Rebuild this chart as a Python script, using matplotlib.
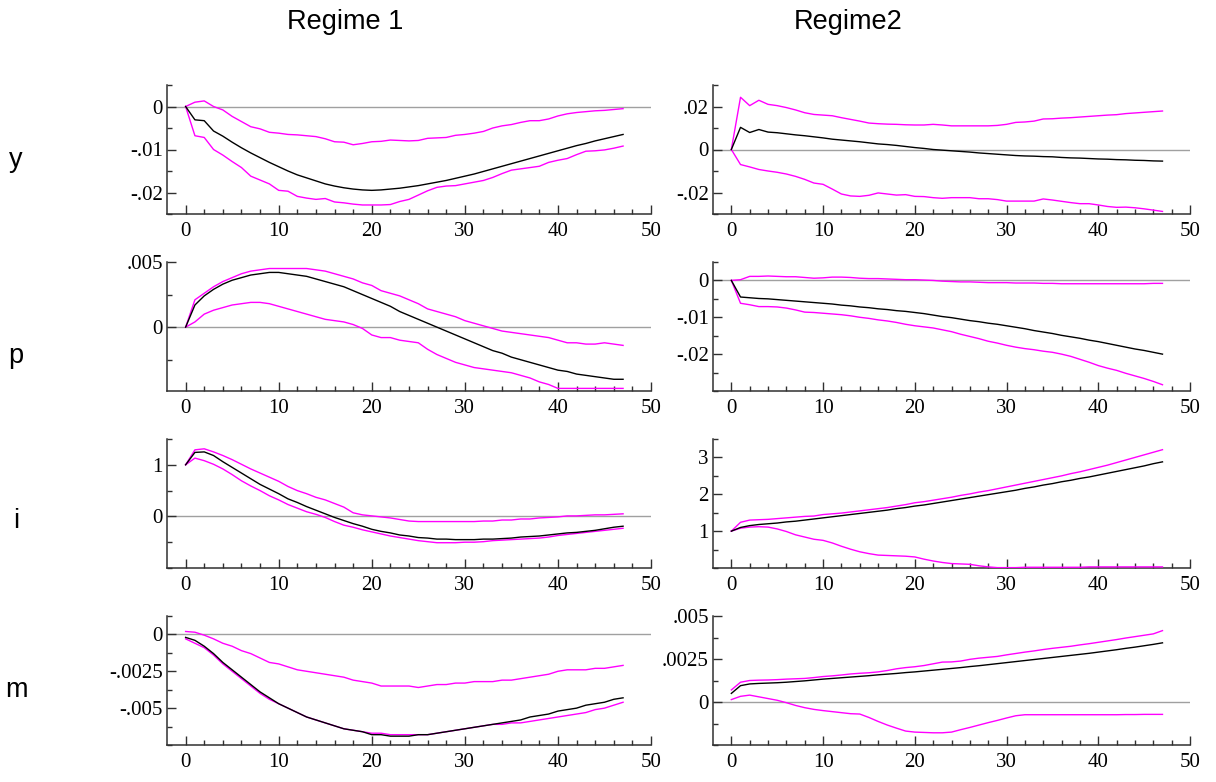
import numpy as np
import matplotlib
matplotlib.use("Agg")
import matplotlib.pyplot as plt
from matplotlib.ticker import FixedLocator, MultipleLocator

horizon = list(range(48))
row_labels = ["y", "p", "i", "m"]
col_titles = ["Regime 1", "Regime2"]

# ---- y, regime 1
y1_mid = [0, -0.0031, -0.0033, -0.0057, -0.0069, -0.0083, -0.0096, -0.0108, -0.0119, -0.0130,
          -0.0140, -0.0150, -0.0159, -0.0166, -0.0173, -0.0180, -0.0185, -0.0189, -0.0192, -0.0194,
          -0.0195, -0.0194, -0.0192, -0.0190, -0.0187, -0.0184, -0.0180, -0.0176, -0.0172, -0.0167,
          -0.0162, -0.0157, -0.0151, -0.0145, -0.0139, -0.0133, -0.0127, -0.0121, -0.0115, -0.0109,
          -0.0103, -0.0097, -0.0091, -0.0086, -0.0080, -0.0075, -0.0070, -0.0065]
y1_up = [0, 0.0010, 0.0013, 0.0000, -0.0008, -0.0023, -0.0035, -0.0047, -0.0052, -0.0060,
         -0.0062, -0.0065, -0.0066, -0.0068, -0.0070, -0.0075, -0.0082, -0.0083, -0.0089, -0.0086,
         -0.0082, -0.0081, -0.0078, -0.0079, -0.0080, -0.0079, -0.0074, -0.0073, -0.0072, -0.0067,
         -0.0065, -0.0062, -0.0058, -0.0050, -0.0045, -0.0042, -0.0037, -0.0033, -0.0033, -0.0029,
         -0.0022, -0.0017, -0.0014, -0.0012, -0.0010, -0.0009, -0.0007, -0.0005]
y1_lo = [0, -0.0068, -0.0072, -0.0100, -0.0113, -0.0128, -0.0142, -0.0162, -0.0171, -0.0180,
         -0.0195, -0.0197, -0.0209, -0.0213, -0.0216, -0.0214, -0.0222, -0.0224, -0.0227, -0.0229,
         -0.0229, -0.0229, -0.0228, -0.0221, -0.0216, -0.0206, -0.0196, -0.0188, -0.0185, -0.0184,
         -0.0180, -0.0176, -0.0172, -0.0165, -0.0156, -0.0148, -0.0145, -0.0142, -0.0139, -0.0130,
         -0.0125, -0.0121, -0.0112, -0.0104, -0.0103, -0.0101, -0.0097, -0.0092]

# ---- y, regime 2
y2_mid = [0, 0.0103, 0.0079, 0.0093, 0.0081, 0.0078, 0.0073, 0.0068, 0.0064, 0.0059,
          0.0054, 0.0048, 0.0044, 0.0040, 0.0036, 0.0031, 0.0026, 0.0023, 0.0019, 0.0014,
          0.0009, 0.0005, 0.0000, -0.0003, -0.0006, -0.0009, -0.0012, -0.0016, -0.0019, -0.0022,
          -0.0025, -0.0028, -0.0030, -0.0031, -0.0033, -0.0034, -0.0037, -0.0039, -0.0040, -0.0042,
          -0.0044, -0.0045, -0.0047, -0.0048, -0.0050, -0.0051, -0.0053, -0.0054]
y2_up = [0, 0.0243, 0.0204, 0.0229, 0.0210, 0.0204, 0.0195, 0.0184, 0.0171, 0.0163,
         0.0160, 0.0157, 0.0148, 0.0140, 0.0132, 0.0123, 0.0120, 0.0118, 0.0117, 0.0115,
         0.0114, 0.0114, 0.0117, 0.0114, 0.0110, 0.0110, 0.0110, 0.0110, 0.0110, 0.0112,
         0.0117, 0.0126, 0.0128, 0.0132, 0.0142, 0.0143, 0.0146, 0.0148, 0.0151, 0.0154,
         0.0157, 0.0160, 0.0162, 0.0167, 0.0170, 0.0173, 0.0176, 0.0179]
y2_lo = [0, -0.0070, -0.0081, -0.0093, -0.0100, -0.0106, -0.0114, -0.0125, -0.0139, -0.0156,
         -0.0162, -0.0184, -0.0207, -0.0216, -0.0218, -0.0213, -0.0202, -0.0207, -0.0212, -0.0210,
         -0.0218, -0.0219, -0.0224, -0.0227, -0.0224, -0.0224, -0.0224, -0.0229, -0.0229, -0.0233,
         -0.0240, -0.0240, -0.0240, -0.0240, -0.0230, -0.0235, -0.0241, -0.0247, -0.0252, -0.0252,
         -0.0258, -0.0265, -0.0269, -0.0268, -0.0271, -0.0276, -0.0282, -0.0288]

# ---- p, regime 1
p1_mid = [0, 0.0017, 0.0024, 0.0029, 0.0033, 0.0036, 0.0038, 0.0040, 0.0041, 0.0042,
          0.0042, 0.0041, 0.0040, 0.0039, 0.0037, 0.0035, 0.0033, 0.0031, 0.0028, 0.0025,
          0.0022, 0.0019, 0.0016, 0.0012, 0.0009, 0.0006, 0.0003, 0.0000, -0.0003, -0.0006,
          -0.0009, -0.0012, -0.0015, -0.0018, -0.0020, -0.0023, -0.0025, -0.0027, -0.0029, -0.0031,
          -0.0033, -0.0034, -0.0036, -0.0037, -0.0038, -0.0039, -0.0040, -0.0040]
p1_up = [0, 0.0021, 0.0026, 0.0031, 0.0035, 0.0038, 0.0041, 0.0043, 0.0044, 0.0045,
         0.0045, 0.0045, 0.0045, 0.0045, 0.0044, 0.0043, 0.0041, 0.0039, 0.0037, 0.0034,
         0.0032, 0.0028, 0.0026, 0.0024, 0.0021, 0.0018, 0.0014, 0.0012, 0.0010, 0.0008,
         0.0005, 0.0003, 0.0001, -0.0001, -0.0003, -0.0004, -0.0005, -0.0006, -0.0007, -0.0008,
         -0.0010, -0.0012, -0.0012, -0.0013, -0.0013, -0.0012, -0.0013, -0.0014]
p1_lo = [0, 0.0004, 0.0010, 0.0013, 0.0015, 0.0017, 0.0018, 0.0019, 0.0019, 0.0018,
         0.0016, 0.0014, 0.0012, 0.0010, 0.0008, 0.0006, 0.0005, 0.0004, 0.0002, -0.0001,
         -0.0006, -0.0008, -0.0008, -0.0010, -0.0011, -0.0012, -0.0017, -0.0021, -0.0024, -0.0027,
         -0.0029, -0.0031, -0.0032, -0.0033, -0.0034, -0.0035, -0.0037, -0.0039, -0.0042, -0.0044,
         -0.0047, -0.0047, -0.0047, -0.0047, -0.0047, -0.0047, -0.0047, -0.0047]

# ---- p, regime 2
p2_mid = [0, -0.0045, -0.0047, -0.0049, -0.0050, -0.0052, -0.0054, -0.0056, -0.0058, -0.0060,
          -0.0062, -0.0064, -0.0067, -0.0069, -0.0072, -0.0074, -0.0077, -0.0079, -0.0082, -0.0084,
          -0.0087, -0.0090, -0.0094, -0.0098, -0.0101, -0.0105, -0.0109, -0.0112, -0.0116, -0.0119,
          -0.0123, -0.0127, -0.0131, -0.0136, -0.0140, -0.0144, -0.0149, -0.0153, -0.0157, -0.0162,
          -0.0166, -0.0171, -0.0176, -0.0181, -0.0186, -0.0190, -0.0195, -0.0200]
p2_up = [0, 0.0002, 0.0011, 0.0011, 0.0012, 0.0011, 0.0010, 0.0010, 0.0008, 0.0006,
         0.0007, 0.0009, 0.0009, 0.0008, 0.0006, 0.0005, 0.0005, 0.0004, 0.0003, 0.0002,
         0.0002, 0.0001, 0.0000, -0.0002, -0.0003, -0.0004, -0.0004, -0.0005, -0.0006, -0.0006,
         -0.0006, -0.0007, -0.0007, -0.0007, -0.0008, -0.0008, -0.0009, -0.0009, -0.0009, -0.0009,
         -0.0009, -0.0009, -0.0009, -0.0009, -0.0009, -0.0009, -0.0008, -0.0008]
p2_lo = [0, -0.0062, -0.0066, -0.0071, -0.0071, -0.0072, -0.0075, -0.0080, -0.0086, -0.0087,
         -0.0089, -0.0091, -0.0093, -0.0096, -0.0100, -0.0103, -0.0107, -0.0110, -0.0114, -0.0119,
         -0.0123, -0.0126, -0.0129, -0.0134, -0.0139, -0.0146, -0.0152, -0.0158, -0.0165, -0.0170,
         -0.0176, -0.0181, -0.0185, -0.0188, -0.0192, -0.0195, -0.0200, -0.0206, -0.0214, -0.0222,
         -0.0231, -0.0238, -0.0244, -0.0252, -0.0259, -0.0266, -0.0274, -0.0283]

# ---- i, regime 1
i1_mid = [1.0, 1.24, 1.25, 1.18, 1.06, 0.95, 0.84, 0.73, 0.62, 0.53,
          0.44, 0.34, 0.27, 0.19, 0.12, 0.05, -0.02, -0.08, -0.14, -0.19,
          -0.25, -0.29, -0.32, -0.36, -0.38, -0.41, -0.42, -0.44, -0.44, -0.45,
          -0.45, -0.45, -0.44, -0.44, -0.43, -0.42, -0.40, -0.39, -0.38, -0.36,
          -0.34, -0.32, -0.31, -0.29, -0.27, -0.24, -0.21, -0.19]
i1_up = [1.0, 1.29, 1.31, 1.25, 1.18, 1.10, 1.01, 0.92, 0.84, 0.76,
         0.68, 0.58, 0.50, 0.44, 0.37, 0.32, 0.25, 0.18, 0.07, 0.03,
         0.01, -0.01, -0.03, -0.06, -0.09, -0.10, -0.10, -0.10, -0.10, -0.10,
         -0.10, -0.10, -0.09, -0.09, -0.07, -0.07, -0.05, -0.05, -0.03, -0.02,
         -0.01, 0.01, 0.01, 0.02, 0.03, 0.03, 0.04, 0.05]
i1_lo = [1.0, 1.13, 1.08, 1.01, 0.92, 0.81, 0.69, 0.59, 0.50, 0.40,
         0.32, 0.23, 0.16, 0.09, 0.04, -0.02, -0.10, -0.17, -0.21, -0.26,
         -0.30, -0.34, -0.38, -0.41, -0.44, -0.47, -0.49, -0.51, -0.51, -0.51,
         -0.50, -0.50, -0.49, -0.47, -0.46, -0.45, -0.44, -0.43, -0.42, -0.40,
         -0.37, -0.35, -0.33, -0.31, -0.29, -0.27, -0.25, -0.23]

# ---- i, regime 2
i2_mid = [1.0, 1.10, 1.15, 1.18, 1.20, 1.22, 1.25, 1.27, 1.30, 1.33,
          1.36, 1.39, 1.42, 1.45, 1.48, 1.51, 1.54, 1.57, 1.61, 1.64,
          1.68, 1.71, 1.75, 1.79, 1.83, 1.87, 1.91, 1.95, 1.99, 2.03,
          2.07, 2.11, 2.16, 2.20, 2.25, 2.29, 2.34, 2.38, 2.43, 2.47,
          2.52, 2.57, 2.62, 2.67, 2.72, 2.77, 2.83, 2.88]
i2_up = [1.0, 1.24, 1.30, 1.31, 1.32, 1.34, 1.36, 1.38, 1.40, 1.41,
         1.45, 1.47, 1.49, 1.52, 1.55, 1.58, 1.61, 1.64, 1.68, 1.72,
         1.77, 1.80, 1.84, 1.88, 1.92, 1.97, 2.01, 2.06, 2.10, 2.15,
         2.20, 2.25, 2.30, 2.35, 2.40, 2.45, 2.50, 2.56, 2.61, 2.67,
         2.73, 2.79, 2.86, 2.93, 3.00, 3.07, 3.14, 3.21]
i2_lo = [1.0, 1.08, 1.11, 1.12, 1.11, 1.06, 0.99, 0.90, 0.84, 0.78,
         0.75, 0.68, 0.59, 0.51, 0.44, 0.39, 0.35, 0.34, 0.33, 0.32,
         0.30, 0.24, 0.19, 0.15, 0.12, 0.11, 0.10, 0.06, 0.03, 0.01,
         0.01, 0.01, 0.02, 0.02, 0.02, 0.02, 0.02, 0.02, 0.02, 0.03,
         0.03, 0.03, 0.03, 0.03, 0.03, 0.03, 0.03, 0.03]

# ---- m, regime 1
m1_mid = [-0.0002, -0.0004, -0.0008, -0.0013, -0.0019, -0.0024, -0.0029, -0.0034, -0.0039, -0.0043,
          -0.0047, -0.0050, -0.0053, -0.0056, -0.0058, -0.0060, -0.0062, -0.0064, -0.0065, -0.0066,
          -0.0068, -0.0068, -0.0069, -0.0069, -0.0069, -0.0068, -0.0068, -0.0067, -0.0066, -0.0065,
          -0.0064, -0.0063, -0.0062, -0.0061, -0.0060, -0.0059, -0.0058, -0.0056, -0.0055, -0.0054,
          -0.0052, -0.0051, -0.0050, -0.0048, -0.0047, -0.0046, -0.0044, -0.0043]
m1_up = [0.0002, 0.00015, -0.00005, -0.0003, -0.0006, -0.0008, -0.0011, -0.0013, -0.0016, -0.0019,
         -0.0020, -0.0022, -0.0024, -0.0025, -0.0026, -0.0027, -0.0028, -0.0029, -0.0031, -0.0032,
         -0.0033, -0.0035, -0.0035, -0.0035, -0.0035, -0.0036, -0.0035, -0.0034, -0.0034, -0.0033,
         -0.0033, -0.0032, -0.0032, -0.0032, -0.0031, -0.0031, -0.0030, -0.0029, -0.0028, -0.0027,
         -0.0025, -0.0024, -0.0024, -0.0024, -0.0023, -0.0023, -0.0022, -0.0021]
m1_lo = [-0.0003, -0.0006, -0.0009, -0.0014, -0.0020, -0.0025, -0.0030, -0.0035, -0.0040, -0.0044,
         -0.0047, -0.0050, -0.0053, -0.0056, -0.0058, -0.0060, -0.0062, -0.0064, -0.0065, -0.0066,
         -0.0067, -0.0067, -0.0068, -0.0068, -0.0068, -0.0068, -0.0068, -0.0067, -0.0066, -0.0065,
         -0.0064, -0.0063, -0.0062, -0.0061, -0.0061, -0.0060, -0.0060, -0.0059, -0.0058, -0.0057,
         -0.0056, -0.0055, -0.0054, -0.0053, -0.0051, -0.0050, -0.0048, -0.0046]

# ---- m, regime 2
m2_mid = [0.0005, 0.00095, 0.00105, 0.00108, 0.0011, 0.00112, 0.00115, 0.00119, 0.00123, 0.00128,
          0.00133, 0.00137, 0.00141, 0.00145, 0.00149, 0.00153, 0.00158, 0.00162, 0.00166, 0.00171,
          0.00175, 0.0018, 0.00185, 0.0019, 0.00195, 0.0020, 0.00206, 0.00211, 0.00217, 0.00223,
          0.00229, 0.00235, 0.00241, 0.00247, 0.00253, 0.00259, 0.00265, 0.00271, 0.00277, 0.00283,
          0.0029, 0.00297, 0.00304, 0.00312, 0.00319, 0.00327, 0.00335, 0.00344]
m2_up = [0.0007, 0.00115, 0.00125, 0.00127, 0.00128, 0.0013, 0.00133, 0.00135, 0.00137, 0.00142,
         0.00148, 0.00152, 0.00157, 0.00163, 0.00167, 0.0017, 0.00175, 0.00183, 0.00193, 0.0020,
         0.00205, 0.00212, 0.00222, 0.00232, 0.00233, 0.00238, 0.00248, 0.00255, 0.0026, 0.00265,
         0.00274, 0.00282, 0.0029, 0.00297, 0.00305, 0.00312, 0.00318, 0.00324, 0.00332, 0.00339,
         0.00347, 0.00355, 0.00363, 0.00372, 0.0038, 0.00388, 0.00396, 0.00415]
m2_lo = [0.00014, 0.00033, 0.0004, 0.0003, 0.0002, 0.0001, -0.00004, -0.0002, -0.00033, -0.00043,
         -0.0005, -0.00056, -0.00062, -0.00068, -0.0007, -0.0009, -0.00113, -0.00134, -0.00152, -0.00169,
         -0.00175, -0.00177, -0.00179, -0.00179, -0.00175, -0.00161, -0.00148, -0.00134, -0.0012, -0.00107,
         -0.00093, -0.0008, -0.00074, -0.00074, -0.00074, -0.00074, -0.00074, -0.00074, -0.00074, -0.00074,
         -0.00074, -0.00074, -0.00074, -0.00073, -0.00073, -0.00072, -0.00072, -0.00072]

series = [
    [(y1_mid, y1_up, y1_lo), (y2_mid, y2_up, y2_lo)],
    [(p1_mid, p1_up, p1_lo), (p2_mid, p2_up, p2_lo)],
    [(i1_mid, i1_up, i1_lo), (i2_mid, i2_up, i2_lo)],
    [(m1_mid, m1_up, m1_lo), (m2_mid, m2_up, m2_lo)],
]

ylims = [[(-0.025, 0.005), (-0.03, 0.03)],
         [(-0.0049, 0.005), (-0.03, 0.005)],
         [(-1.0, 1.5), (0.0, 3.5)],
         [(-0.0075, 0.00125), (-0.0025, 0.005)]]
yticks = [[[0, -0.01, -0.02], [0.02, 0, -0.02]],
          [[0.005, 0], [0, -0.01, -0.02]],
          [[1, 0], [3, 2, 1]],
          [[0, -0.0025, -0.005], [0.005, 0.0025, 0]]]
yticklabels = [[["0", "-.01", "-.02"], [".02", "0", "-.02"]],
               [[".005", "0"], ["0", "-.01", "-.02"]],
               [["1", "0"], ["3", "2", "1"]],
               [["0", "-.0025", "-.005"], [".005", ".0025", "0"]]]
yminor = [[0.005, 0.01], [0.0025, 0.005], [0.5, 0.5], [0.00125, 0.00125]]
xticks = [0, 10, 20, 30, 40, 50]

fig = plt.figure(figsize=(12.16, 7.82), dpi=100)
tickfont = "Liberation Serif"
sansfont = "Liberation Sans"

lefts = [167 / 1216, 713 / 1216]
widths = [484 / 1216, 477 / 1216]
tops = [85, 262, 439, 616]
h = 129
spine_c = "#303030"

for r in range(4):
    for c in range(2):
        ax = fig.add_axes([lefts[c], 1 - (tops[r] + h) / 782, widths[c], h / 782])
        mid, up, lo = series[r][c]
        ax.axhline(0, color="#a0a0a0", lw=1.0, zorder=1)
        ax.plot(horizon, up, color="#ff00ff", lw=1.0, zorder=3)
        ax.plot(horizon, lo, color="#ff00ff", lw=1.0, zorder=3)
        ax.plot(horizon, mid, color="black", lw=1.0, zorder=4)
        ax.set_xlim(-2, 50)
        ax.set_ylim(*ylims[r][c])
        for s in ["top", "right"]:
            ax.spines[s].set_visible(False)
        for s in ["left", "bottom"]:
            ax.spines[s].set_color(spine_c)
            ax.spines[s].set_linewidth(1.1)
        ax.set_xticks(xticks)
        ax.set_xticklabels([str(t) for t in xticks])
        ax.xaxis.set_minor_locator(FixedLocator(list(range(0, 51, 2))))
        ax.set_yticks(yticks[r][c])
        ax.set_yticklabels(yticklabels[r][c])
        ax.yaxis.set_minor_locator(MultipleLocator(yminor[r][c]))
        ax.tick_params(axis="both", which="both", direction="in", colors=spine_c,
                       labelcolor="black", width=1.0)
        ax.tick_params(axis="x", which="major", length=6.5, pad=6)
        ax.tick_params(axis="x", which="minor", length=3.6)
        ax.tick_params(axis="y", which="major", length=6.5, pad=3)
        ax.tick_params(axis="y", which="minor", length=3.6)
        for lab in ax.get_xticklabels() + ax.get_yticklabels():
            lab.set_fontfamily(tickfont)
            lab.set_fontsize(15)

fig.text(345 / 1216, 1 - 22 / 782, col_titles[0], ha="center", va="center",
         fontsize=19.5, family=sansfont)
fig.text(848 / 1216, 1 - 22 / 782, col_titles[1], ha="center", va="center",
         fontsize=19.5, family=sansfont)
row_y = [160, 356, 521, 690]
for lab, yy in zip(row_labels, row_y):
    fig.text(16 / 1216, 1 - yy / 782, lab, ha="center", va="center",
             fontsize=19.5, family=sansfont)

fig.savefig("out.png", dpi=100)
